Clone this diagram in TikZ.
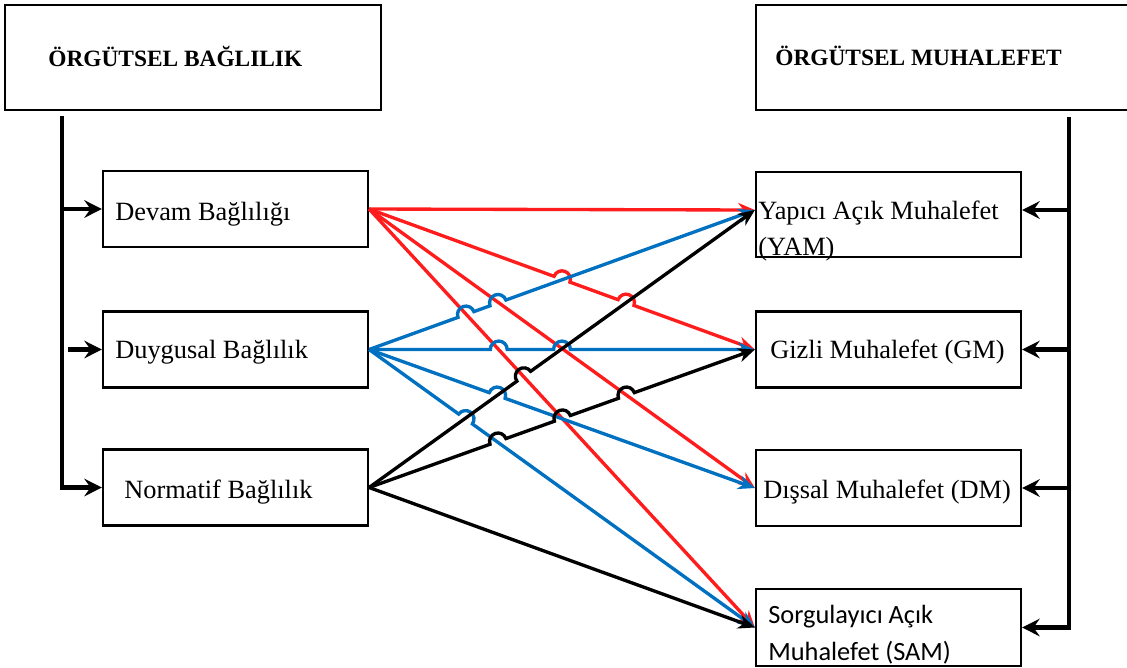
\documentclass[tikz,border=0pt]{standalone}
\usepackage{fontspec}
\setmainfont{Liberation Serif}
\newfontfamily\calibrifont{Carlito}
\usetikzlibrary{arrows.meta,calc}
\definecolor{linkred}{RGB}{255,28,28}
\definecolor{linkblue}{RGB}{0,112,192}
% line #2 -- #3 with a half-circle hop at each fraction in #4
\newcommand{\hopline}[4]{\draw[#1] let \p1=(#2), \p2=(#3),
    \n1={atan2(\y2-\y1,\x2-\x1)}, \n2={veclen(\x2-\x1,\y2-\y1)} in (\p1)
    \foreach \hp in {#4} { -- ($(\p1)!{\hp*\n2-4.8pt}!(\p2)$)
      arc[start angle=\n1+180, end angle=\n1, radius=4.8pt] } -- (\p2);}
\begin{document}
\begin{tikzpicture}[x=0.2cm, y=0.2cm]
                \tikzstyle{every node}+=[inner sep=0pt]
                \tikzstyle{box}=[draw, line width=1.25pt, minimum width=5.3cm, minimum height=1.52cm]
                \tikzstyle{headbox}=[draw, line width=1.25pt, minimum height=2.1cm]
                \tikzstyle{headtext}=[anchor=base west, font=\fontsize{13.3}{16}\selectfont\bfseries]
                \tikzstyle{boxtext}=[anchor=base west, font=\fontsize{15}{20}\selectfont, align=left]
                \tikzstyle{busarrow}=[line width=2.5pt, -{Stealth[length=10pt,width=10pt,inset=3.5pt]}]
                \tikzstyle{link}=[line width=1.9pt, -{Stealth[length=9.5pt,width=8pt,inset=3pt]}]
                \useasboundingbox (0,0) rectangle (112.7,-66.7);
                % top boxes
                \node[headbox, minimum width=7.52cm] (obag) at (19.3,-5.75) {};
                \node[headtext] (obaglbl) at (4.8,-6.6) {ÖRGÜTSEL BAĞLILIK};
                \node[headbox, minimum width=7.68cm] (omuh) at (94.8,-5.75) {};
                \node[headtext] (omuhlbl) at (77.5,-6.5) {ÖRGÜTSEL MUHALEFET};
                % left boxes
                \node[box] (devam) at (23.55,-20.9) {};
                \node[boxtext] (devamlbl) at (11.5,-22.0) {Devam Bağlılığı};
                \node[box] (duyg) at (23.55,-34.95) {};
                \node[boxtext] (duyglbl) at (11.5,-35.8) {Duygusal Bağlılık};
                \node[box] (norm) at (23.55,-48.75) {};
                \node[boxtext] (normlbl) at (12.4,-49.8) {Normatif Bağlılık};
                % right boxes
                \node[box, minimum height=1.7cm] (yam) at (88.85,-21.45) {};
                \node[boxtext] (yamlbl) at (75.8,-25.5) {Yapıcı Açık Muhalefet\\(YAM)};
                \node[box] (gizli) at (88.85,-34.95) {};
                \node[boxtext] (gizlilbl) at (77.0,-35.8) {Gizli Muhalefet (GM)};
                \node[box] (dm) at (88.85,-48.8) {};
                \node[boxtext] (dmlbl) at (76.3,-49.8) {Dışsal Muhalefet (DM)};
                \node[box, minimum height=1.54cm] (sam) at (88.85,-62.75) {};
                \node[boxtext, font=\calibrifont\fontsize{15}{21}\selectfont] (samlbl) at (76.8,-66.0) {Sorgulayıcı Açık\\Muhalefet (SAM)};
                \coordinate (yamin) at ([yshift=0.09cm]yam.west);
                \coordinate (yamout) at ([yshift=0.09cm]yam.east);
                % side lines
                \coordinate (ltop) at (6.2,-11.6);
                \coordinate (rtop) at (106.9,-11.7);
                \draw [busarrow] (ltop) |- (norm.west);
                \draw [busarrow] (ltop |- devam.west) -- (devam.west);
                \draw [busarrow] ([xshift=-0.68cm]duyg.west) -- (duyg.west);
                \draw [busarrow] (rtop) |- (sam.east);
                \draw [busarrow] (rtop |- yamout) -- (yamout);
                \draw [busarrow] (rtop |- gizli.east) -- (gizli.east);
                \draw [busarrow] (rtop |- dm.east) -- (dm.east);
                % red
                \draw [link, linkred] (devam.east) -- (yamin);
                \hopline{link, linkred}{devam.east}{gizli.west}{0.5,0.666}
                \draw [link, linkred] (devam.east) -- (dm.west);
                \draw [link, linkred] (devam.east) -- (sam.west);
                % blue
                \hopline{link, linkblue}{duyg.east}{yamin}{0.251,0.334}
                \hopline{link, linkblue}{duyg.east}{gizli.west}{0.336,0.5}
                \hopline{link, linkblue}{duyg.east}{dm.west}{0.332}
                \hopline{link, linkblue}{duyg.east}{sam.west}{0.25}
                % black
                \hopline{link, black}{norm.east}{yamin}{0.401}
                \hopline{link, black}{norm.east}{gizli.west}{0.334,0.501,0.667}
                \draw [link, black] (norm.east) -- (sam.west);
            \end{tikzpicture}
\end{document}
